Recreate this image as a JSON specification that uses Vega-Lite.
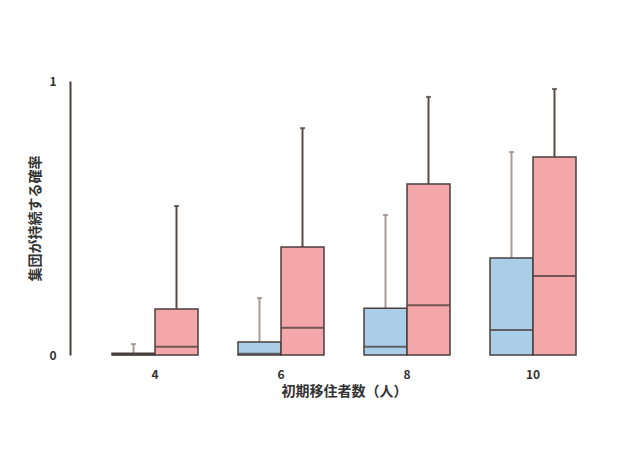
{
  "$schema": "https://vega.github.io/schema/vega-lite/v6.json",
  "width": 520,
  "height": 274,
  "autosize": "none",
  "padding": {"left": 70, "top": 81, "right": 42, "bottom": 121},
  "background": "white",
  "config": {
    "view": {"stroke": null},
    "font": "Noto Sans CJK JP"
  },
  "data": {
    "values": [
      {"n": "4", "g": "A", "q3": 0.006, "med": 0.002, "max": 0.04},
      {"n": "4", "g": "B", "q3": 0.168, "med": 0.03, "max": 0.544},
      {"n": "6", "g": "A", "q3": 0.047, "med": 0.005, "max": 0.208},
      {"n": "6", "g": "B", "q3": 0.394, "med": 0.099, "max": 0.828},
      {"n": "8", "g": "A", "q3": 0.171, "med": 0.03, "max": 0.511},
      {"n": "8", "g": "B", "q3": 0.624, "med": 0.182, "max": 0.942},
      {"n": "10", "g": "A", "q3": 0.354, "med": 0.091, "max": 0.741},
      {"n": "10", "g": "B", "q3": 0.723, "med": 0.288, "max": 0.971}
    ]
  },
  "encoding": {
    "x": {
      "field": "n",
      "type": "nominal",
      "sort": ["4", "6", "8", "10"],
      "scale": {"type": "band", "range": [22, 526], "paddingInner": 0, "paddingOuter": 0},
      "axis": {
        "title": "初期移住者数（人）",
        "labelAngle": 0,
        "domain": false,
        "ticks": false,
        "labelPadding": 14,
        "labelFontSize": 12,
        "labelFontWeight": "bold",
        "labelColor": "#333333",
        "titleFontSize": 14,
        "titleFontWeight": "bold",
        "titleColor": "#333333",
        "titlePadding": 4
      }
    },
    "xOffset": {
      "field": "g",
      "type": "nominal",
      "scale": {"paddingOuter": 0.465, "paddingInner": 0}
    }
  },
  "layer": [
    {
      "mark": {"type": "rule", "strokeWidth": 2},
      "encoding": {
        "y": {
          "field": "q3",
          "type": "quantitative",
          "scale": {"domain": [0, 1], "nice": false},
          "axis": {
            "title": "集団が持続する確率",
            "values": [0, 1],
            "format": "d",
            "grid": false,
            "domainColor": "#4a3f3c",
            "domainWidth": 2,
            "ticks": false,
            "labelPadding": 14,
            "labelFontSize": 12,
            "labelFontWeight": "bold",
            "labelColor": "#333333",
            "titleFontSize": 14,
            "titleFontWeight": "bold",
            "titleColor": "#333333",
            "titlePadding": 6
          }
        },
        "y2": {"field": "max"},
        "stroke": {
          "field": "g",
          "type": "nominal",
          "scale": {"domain": ["A", "B"], "range": ["#a89b98", "#5b4b48"]},
          "legend": null
        }
      }
    },
    {
      "mark": {"type": "tick", "size": 5, "thickness": 2},
      "encoding": {
        "y": {"field": "max", "type": "quantitative"},
        "color": {
          "field": "g",
          "type": "nominal",
          "scale": {"domain": ["A", "B"], "range": ["#8f817e", "#3f3331"]},
          "legend": null
        }
      }
    },
    {
      "mark": {"type": "bar", "stroke": "#4a3f3c", "strokeWidth": 1.5},
      "encoding": {
        "y": {"field": "q3", "type": "quantitative"},
        "y2": {"datum": 0},
        "fill": {
          "field": "g",
          "type": "nominal",
          "scale": {"domain": ["A", "B"], "range": ["#aacde8", "#f3a7a8"]},
          "legend": null
        }
      }
    },
    {
      "mark": {"type": "tick", "size": 42, "thickness": 2, "color": "#3f3331"},
      "encoding": {
        "y": {"field": "med", "type": "quantitative"}
      }
    },
    {
      "mark": {"type": "rule", "color": "#5a4f4c", "strokeWidth": 1.5},
      "encoding": {
        "y": {"datum": 0}
      }
    }
  ]
}
